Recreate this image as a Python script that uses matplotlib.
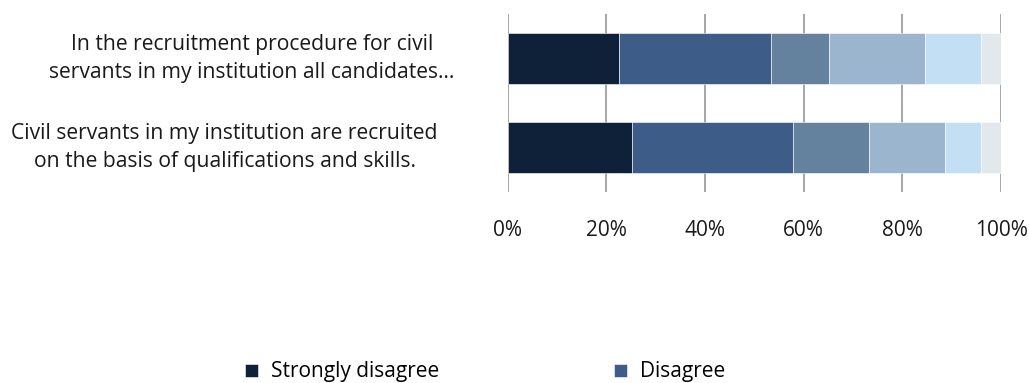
import matplotlib.pyplot as plt
from matplotlib.transforms import blended_transform_factory

plt.rcParams['font.family'] = ['Open Sans', 'DejaVu Sans']

statements = [
    "Civil servants in my institution are recruited\non the basis of qualifications and skills.",
    "In the recruitment procedure for civil\nservants in my institution all candidates…",
]
label_x = [-0.573, -0.518]

series_names = ["Strongly disagree", "Disagree", "Tend to disagree",
                "Tend to agree", "Agree", "Strongly agree"]
colors = ["#0e2139", "#3d5c87", "#64829e", "#9bb5cf", "#c3dff3", "#e3e8ed"]

# share of answers (%) per statement, bottom bar first
strongly_disagree = [25.2, 22.6]
disagree = [32.7, 30.8]
tend_disagree = [15.4, 11.7]
tend_agree = [15.4, 19.5]
agree = [7.2, 11.3]
strongly_agree = [4.1, 4.1]
values = [strongly_disagree, disagree, tend_disagree, tend_agree, agree, strongly_agree]

ticks = [0, 20, 40, 60, 80, 100]

fig = plt.figure(figsize=(10.29, 3.83), dpi=100)
ax = fig.add_axes([0.4932, 0.499, 0.4797, 0.4645])

ypos = list(range(len(statements)))
left = [0.0] * len(statements)
bars = []
for name, vals, col in zip(series_names, values, colors):
    b = ax.barh(ypos, vals, left=left, height=0.573, color=col,
                edgecolor="white", linewidth=0.4, label=name, zorder=3)
    bars.append(b)
    left = [l + v for l, v in zip(left, vals)]

ax.set_xlim(0, 100)
ax.set_ylim(-0.5, 1.5)
ax.set_xticks(ticks)
ax.set_xticklabels([f"{t}%" for t in ticks], fontsize=15, color="#1a1a1a")
ax.tick_params(axis="x", length=0, pad=20)
ax.set_yticks([])
for s in ax.spines.values():
    s.set_visible(False)
ax.grid(axis="x", color="#a6a6a6", linewidth=1.4, zorder=0)

trans = blended_transform_factory(ax.transAxes, ax.transData)
for y, text, x in zip(ypos, statements, label_x):
    ax.text(x, y, text, transform=trans, ha="center", va="center",
            multialignment="center", fontsize=15.2, color="#1a1a1a",
            linespacing=1.45)

fig.legend(handles=[bars[0], bars[1]], labels=series_names[:2],
           loc="center left", bbox_to_anchor=(245 / 1029, 1 - 372 / 383),
           ncol=2, frameon=False, fontsize=15, borderpad=0, borderaxespad=0,
           handlelength=0.6, handleheight=0.6, handletextpad=0.65,
           columnspacing=8.4)

fig.savefig("out.png", dpi=100, facecolor="white")
